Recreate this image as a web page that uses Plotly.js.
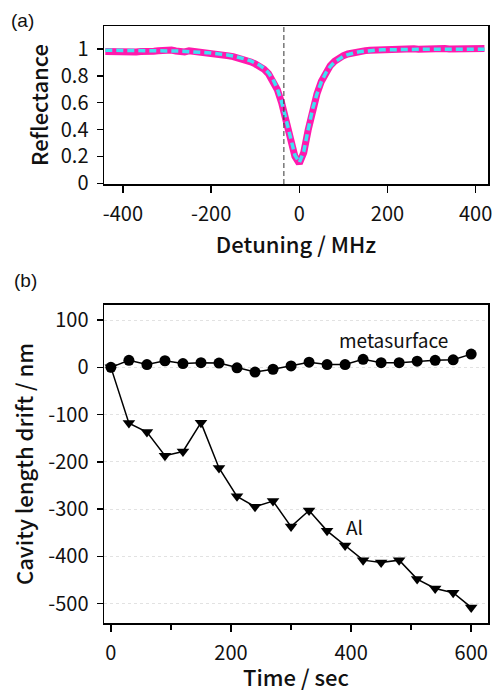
<!DOCTYPE html>
<html>
<head>
<meta charset="utf-8">
<script src="https://cdn.plot.ly/plotly-3.0.1.min.js"></script>
<style>html,body{margin:0;padding:0;background:#fff;}#chart{width:500px;height:692px;}</style>
</head>
<body>
<div id="chart"></div>
<script>
// ---- Panel (a): reflectance spectrum ----
const detuning = [-440,-430,-420,-410,-400,-390,-380,-370,-360,-350,-340,-330,-320,-310,-300,-290,-280,-270,-260,-250,-240,-230,-220,-210,-200,-190,-180,-170,-160,-150,-140,-130,-120,-110,-100,-90,-80,-70,-60,-50,-40,-30,-20,-10,0,10,20,30,40,50,60,70,80,90,100,110,120,130,140,150,160,170,180,190,200,210,220,230,240,250,260,270,280,290,300,310,320,330,340,350,360,370,380,390,400,410,420];
const reflMeasured = [0.980,0.978,0.982,0.979,0.977,0.983,0.981,0.976,0.980,0.985,0.988,0.983,0.986,0.990,0.987,0.991,0.984,0.975,0.977,0.985,0.982,0.974,0.972,0.969,0.966,0.963,0.960,0.955,0.948,0.942,0.935,0.927,0.916,0.903,0.888,0.872,0.848,0.815,0.768,0.698,0.598,0.472,0.332,0.200,0.148,0.228,0.395,0.548,0.665,0.758,0.826,0.874,0.908,0.932,0.950,0.962,0.971,0.978,0.983,0.987,0.990,0.992,0.995,0.997,0.999,0.998,1.002,1.000,0.997,0.999,1.001,0.998,1.000,1.002,0.999,0.997,1.001,1.003,0.999,1.000,1.002,0.998,1.000,1.003,1.001,0.999,1.002];
const reflFit = [0.990,0.990,0.990,0.990,0.990,0.989,0.989,0.989,0.988,0.988,0.988,0.987,0.987,0.986,0.986,0.985,0.984,0.983,0.982,0.981,0.979,0.977,0.975,0.972,0.969,0.966,0.962,0.958,0.953,0.947,0.940,0.932,0.922,0.910,0.896,0.878,0.855,0.822,0.775,0.705,0.605,0.480,0.340,0.210,0.155,0.235,0.400,0.550,0.665,0.755,0.820,0.868,0.902,0.926,0.944,0.957,0.967,0.974,0.980,0.984,0.987,0.990,0.992,0.993,0.994,0.995,0.995,0.996,0.996,0.996,0.997,0.997,0.997,0.997,0.997,0.998,0.998,0.998,0.998,0.998,0.998,0.998,0.998,0.998,0.998,0.998,0.998];
const markerDetuning = -35;
const detuningTicks = [-400,-200,0,200,400];
const detuningTickText = ['-400','-200','0','200','400'];
const reflTicks = [0,0.2,0.4,0.6,0.8,1];
const reflTickText = ['0','0.2','0.4','0.6','0.8','1'];

// ---- Panel (b): cavity length drift ----
const timeSec = [0,30,60,90,120,150,180,210,240,270,300,330,360,390,420,450,480,510,540,570,600];
const driftMeta = [0,15,6,14,8,10,9,-1,-10,-4,3,11,6,6,17,10,10,13,15,16,28];
const driftAl = [0,-118,-137,-187,-178,-117,-213,-273,-295,-283,-337,-303,-346,-377,-408,-413,-408,-448,-468,-477,-508];
const timeTicks = [0,200,400,600];
const timeMinorTicks = [100,300,500];
const driftTicks = [-500,-400,-300,-200,-100,0,100];
const driftTickText = ['-500','-400','-300','-200','-100','0','100'];

const FONT = '"Noto Sans CJK JP", "Noto Sans", sans-serif';
const titleFont = {family:FONT, size:22, color:'#111', weight:500};

const traces = [
  {x: detuning, y: reflMeasured, xaxis:'x', yaxis:'y', mode:'lines',
   line:{color:'#ff1aad', width:7}, hoverinfo:'skip', showlegend:false},
  {x: detuning, y: reflFit, xaxis:'x', yaxis:'y', mode:'lines',
   line:{color:'#3fe2f2', width:3.5, dash:'7px,4px'}, showlegend:false},
  {x: timeSec, y: driftAl, xaxis:'x2', yaxis:'y2', mode:'lines+markers',
   line:{color:'#000', width:1.5}, marker:{symbol:'triangle-down', size:11, color:'#000'}, showlegend:false},
  {x: timeSec, y: driftMeta, xaxis:'x2', yaxis:'y2', mode:'lines+markers',
   line:{color:'#000', width:1.5}, marker:{symbol:'circle', size:11, color:'#000'}, showlegend:false}
];

const axBase = {
  showline:true, mirror:true, linecolor:'#000', linewidth:1.5,
  ticks:'outside', ticklen:7, tickwidth:1.5, tickcolor:'#000',
  zeroline:false, showgrid:false,
  tickfont:{family:FONT, size:20, color:'#111'},
  ticklabelstandoff:4
};

const layout = {
  width:500, height:692,
  margin:{l:104, r:12, t:26, b:69},
  paper_bgcolor:'#fff', plot_bgcolor:'#fff',
  font:{family:FONT, color:'#111'},
  xaxis: Object.assign({}, axBase, {
    domain:[0,1], anchor:'y', range:[-443,428], tickvals:detuningTicks, ticktext:detuningTickText,
    title:{text:'Detuning / MHz', font:titleFont, standoff:6}
  }),
  yaxis: Object.assign({}, axBase, {
    domain:[0.7353,1], anchor:'x', range:[-0.005,1.17], tickvals:reflTicks,
    ticktext:reflTickText, ticklen:6,
    title:{text:'Reflectance', font:titleFont, standoff:6}
  }),
  xaxis2: Object.assign({}, axBase, {
    domain:[0,1], anchor:'y2', range:[-11.5,628], tickvals:timeTicks,
    minor:{tickvals:timeMinorTicks, ticks:'outside', ticklen:5, tickwidth:1.5, tickcolor:'#000', showgrid:false},
    title:{text:'Time / sec', font:titleFont, standoff:4}
  }),
  yaxis2: Object.assign({}, axBase, {
    domain:[0,0.5327], anchor:'x2', range:[-541,132], tickvals:driftTicks, ticktext:driftTickText,
    showgrid:true, gridcolor:'#e2e2e2', gridwidth:1, griddash:'dot', ticklen:6,
    title:{text:'Cavity length drift / nm', font:titleFont, standoff:8}
  }),
  shapes:[
    {type:'line', xref:'x', yref:'y domain', x0:markerDetuning, x1:markerDetuning, y0:0, y1:1,
     line:{color:'#333', width:1, dash:'5px,3px'}}
  ],
  annotations:[
    {text:'(a)', xref:'paper', yref:'paper', x:-0.2135, y:1.010, xanchor:'center', yanchor:'middle', showarrow:false,
     font:{family:'Liberation Sans, Arial, sans-serif', size:19, color:'#111'}},
    {text:'(b)', xref:'paper', yref:'paper', x:-0.2057, y:0.5729, xanchor:'center', yanchor:'middle', showarrow:false,
     font:{family:'Liberation Sans, Arial, sans-serif', size:19, color:'#111'}},
    {text:'metasurface', xref:'x2', yref:'y2', x:470, y:58, showarrow:false,
     font:{family:FONT, size:19, color:'#111'}},
    {text:'Al', xref:'x2', yref:'y2', x:405, y:-336, showarrow:false,
     font:{family:FONT, size:19, color:'#111'}}
  ]
};

Plotly.newPlot('chart', traces, layout, {displayModeBar:false, staticPlot:true});
</script>
</body>
</html>
